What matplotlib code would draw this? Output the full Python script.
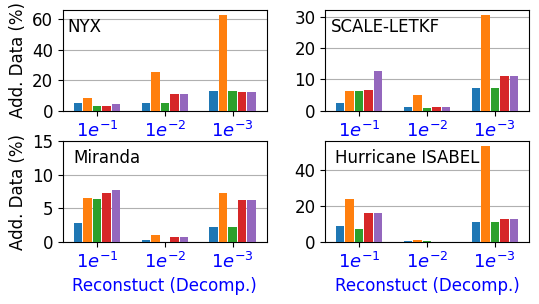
import numpy as np
import matplotlib
matplotlib.use('Agg')
import matplotlib.pyplot as plt

# error bounds on the x axis
bounds = ['$1e^{-1}$', '$1e^{-2}$', '$1e^{-3}$']

# five series per dataset, one value per error bound
nyx = [[5.4, 5.2, 13.1],
       [8.7, 25.6, 62.8],
       [3.3, 5.2, 13.1],
       [3.3, 11.1, 12.4],
       [4.6, 11.1, 12.4]]
scale_letkf = [[2.6, 1.3, 7.3],
               [6.4, 5.1, 30.6],
               [6.4, 0.96, 7.3],
               [6.7, 1.3, 11.2],
               [12.8, 1.3, 11.2]]
miranda = [[2.84, 0.3, 2.24],
           [6.58, 1.05, 7.33],
           [6.43, 0.0, 2.24],
           [7.33, 0.75, 6.28],
           [7.77, 0.75, 6.28]]
isabel = [[8.9, 0.56, 11.2],
          [24.0, 1.1, 53.6],
          [7.3, 0.56, 11.2],
          [16.2, 0.0, 12.8],
          [16.2, 0.0, 12.8]]

datasets = [('NYX', nyx), ('SCALE-LETKF', scale_letkf),
            ('Miranda', miranda), ('Hurricane ISABEL', isabel)]
yticks = [[0, 20, 40, 60], [0, 10, 20, 30], [0, 5, 10, 15], [0, 20, 40]]
colors = ['C0', 'C1', 'C2', 'C3', 'C4']

fig, axes = plt.subplots(2, 2, figsize=(5.39, 3.04), dpi=100)
fig.subplots_adjust(left=0.117, right=0.981, top=0.967, bottom=0.204,
                    wspace=0.288, hspace=0.3)

x = np.arange(len(bounds))
pitch = 0.14
text_x = [0.02, 0.03, 0.05, 0.05]

for k, (ax, (name, series)) in enumerate(zip(axes.flat, datasets)):
    for i, vals in enumerate(series):
        ax.bar(x + (i - 2) * pitch, vals, width=0.125, color=colors[i], zorder=3)
    ax.set_xlim(-0.5, 2.5)
    ax.set_xticks(x)
    ax.set_xticklabels(bounds, color='blue', fontsize=13)
    ax.set_yticks(yticks[k])
    ax.tick_params(axis='y', labelsize=12)
    ax.yaxis.grid(True, color='#b0b0b0', zorder=0)
    ax.set_axisbelow(True)
    ax.text(text_x[k], 0.83, name, transform=ax.transAxes, fontsize=12,
            va='center', ha='left')
    if k % 2 == 0:
        ax.set_ylabel('Add. Data (%)', fontsize=12)
    if k >= 2:
        ax.set_xlabel('Reconstuct (Decomp.)', color='blue', fontsize=12)

axes[1, 0].set_ylim(0, 15)

fig.savefig('out.png', dpi=100)
